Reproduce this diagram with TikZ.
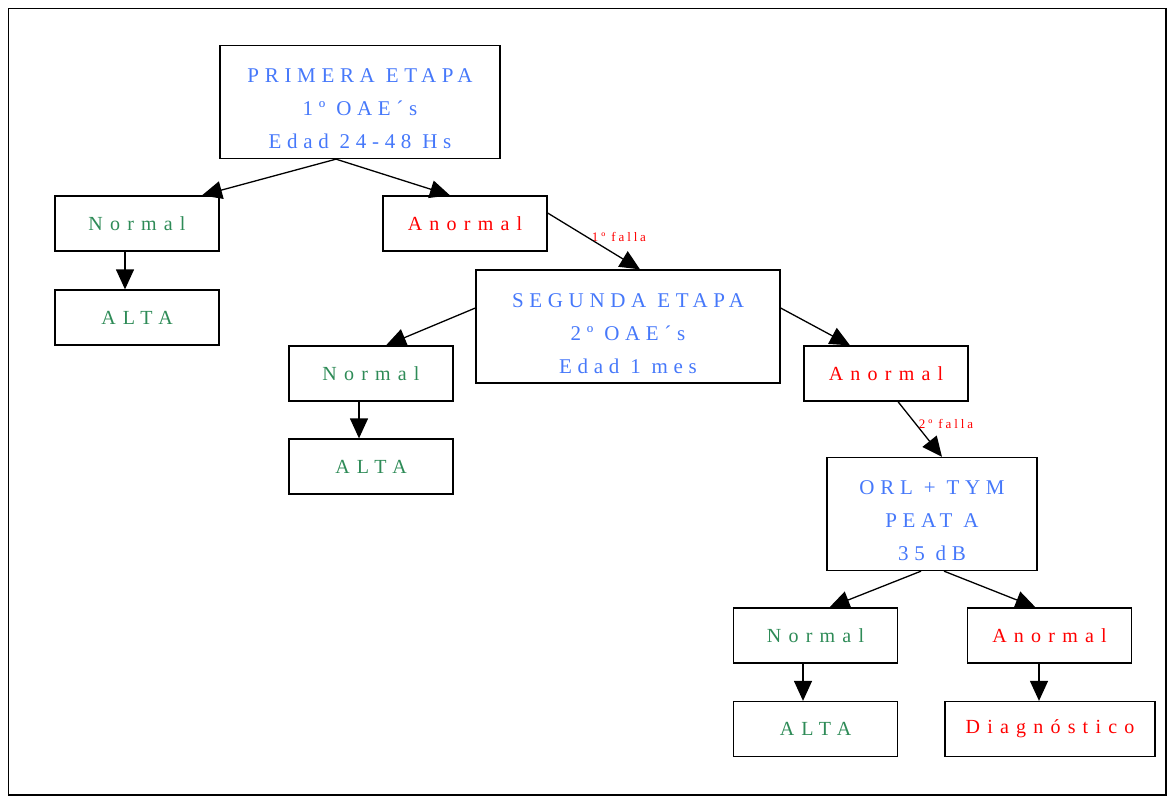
\documentclass[tikz,border=0pt]{standalone}
\usepackage{fontspec}
\usetikzlibrary{arrows.meta}
\newfontfamily\boxfont[LetterSpace=27]{Liberation Serif}
\newfontfamily\resfont[LetterSpace=36]{Liberation Serif}
\newfontfamily\lblfont[LetterSpace=22]{Liberation Serif}
\definecolor{stageblue}{RGB}{70,120,250}
\definecolor{okgreen}{RGB}{46,139,87}
\definecolor{badred}{RGB}{255,0,0}
\newcommand{\stagetext}[3]{\raisebox{0pt}[\dimexpr\height+14pt\relax][\depth]{\begin{tabular}{@{}c@{}}#1\\#2\\#3\end{tabular}}}
\tikzset{
  stagebox/.style={draw, line width=1.3pt, minimum width=#1, minimum height=112pt, inner sep=0pt, align=center, text=stageblue, font=\boxfont\fontsize{21}{33}\selectfont},
  resbox/.style={draw, line width=1.3pt, minimum width=#1, minimum height=55pt, inner sep=0pt, align=center, font=\resfont\fontsize{20}{22}\selectfont},
  okbox/.style={resbox=164pt, text=okgreen},
  badbox/.style={resbox=164pt, text=badred},
  conn/.style={line width=1.3pt, -{Triangle[length=20pt,width=18pt]}},
  faillbl/.style={text=badred, font=\lblfont\fontsize{13}{15}\selectfont, inner sep=0pt}
}
\begin{document}
\begin{tikzpicture}[x=1pt,y=-1pt]
\useasboundingbox (0,0) rectangle (1167,796);
\draw[line width=1.3pt] (8.5,8.5) rectangle (1166,795);
% stage boxes
\node[stagebox=280pt] (p1) at (360,102) {\stagetext{PRIMERA ETAPA}{1º OAE´s}{Edad 24-48 Hs}};
\node[stagebox=304pt] (p2) at (628,326.5) {\stagetext{SEGUNDA ETAPA}{2º OAE´s}{Edad 1 mes}};
\node[stagebox=210pt] (p3) at (932,514) {\stagetext{ORL + TYM}{PEAT A}{35 dB}};
% level 1
\node[okbox] (n1) at (137,223.5) {Normal};
\node[badbox] (a1) at (465,223.5) {Anormal};
\node[okbox] (t1) at (137,317.5) {ALTA};
% level 2
\node[okbox] (n2) at (371,373.5) {Normal};
\node[badbox] (a2) at (886,373.5) {Anormal};
\node[okbox] (t2) at (371,466.5) {ALTA};
% level 3
\node[okbox] (n3) at (815.5,635.5) {Normal};
\node[badbox] (a3) at (1049.5,635.5) {Anormal};
\node[okbox] (t3) at (815.5,729) {ALTA};
\node[resbox=210pt, text=badred] (dg) at (1050,729) {Diagnóstico};
% labels
\node[faillbl] (f1) at (619,237) {1º falla};
\node[faillbl] (f2) at (946,424) {2º falla};
% connectors
\draw[conn] ([xshift=-24pt]p1.south) -- ([xshift=65pt]n1.north);
\draw[conn] ([xshift=-24pt]p1.south) -- ([xshift=-15pt]a1.north);
\draw[conn] ([xshift=-12pt]n1.south) -- ([xshift=-12pt]t1.north);
\draw[conn] ([yshift=10.5pt]a1.east) -- ([xshift=12pt]p2.north);
\draw[conn] ([yshift=18.5pt]p2.west) -- ([xshift=15pt]n2.north);
\draw[conn] ([yshift=18.5pt]p2.east) -- ([xshift=-36pt]a2.north);
\draw[conn] ([xshift=-12pt]n2.south) -- ([xshift=-12pt]t2.north);
\draw[conn] ([xshift=12pt]a2.south) -- ([xshift=10pt]p3.north);
\draw[conn] ([xshift=-11pt]p3.south) -- ([xshift=14pt]n3.north);
\draw[conn] ([xshift=12pt]p3.south) -- ([xshift=-14pt]a3.north);
\draw[conn] ([xshift=-12.5pt]n3.south) -- ([xshift=-12.5pt]t3.north);
\draw[conn] ([xshift=-10.5pt]a3.south) -- ([xshift=-11pt]dg.north);
\end{tikzpicture}
\end{document}
